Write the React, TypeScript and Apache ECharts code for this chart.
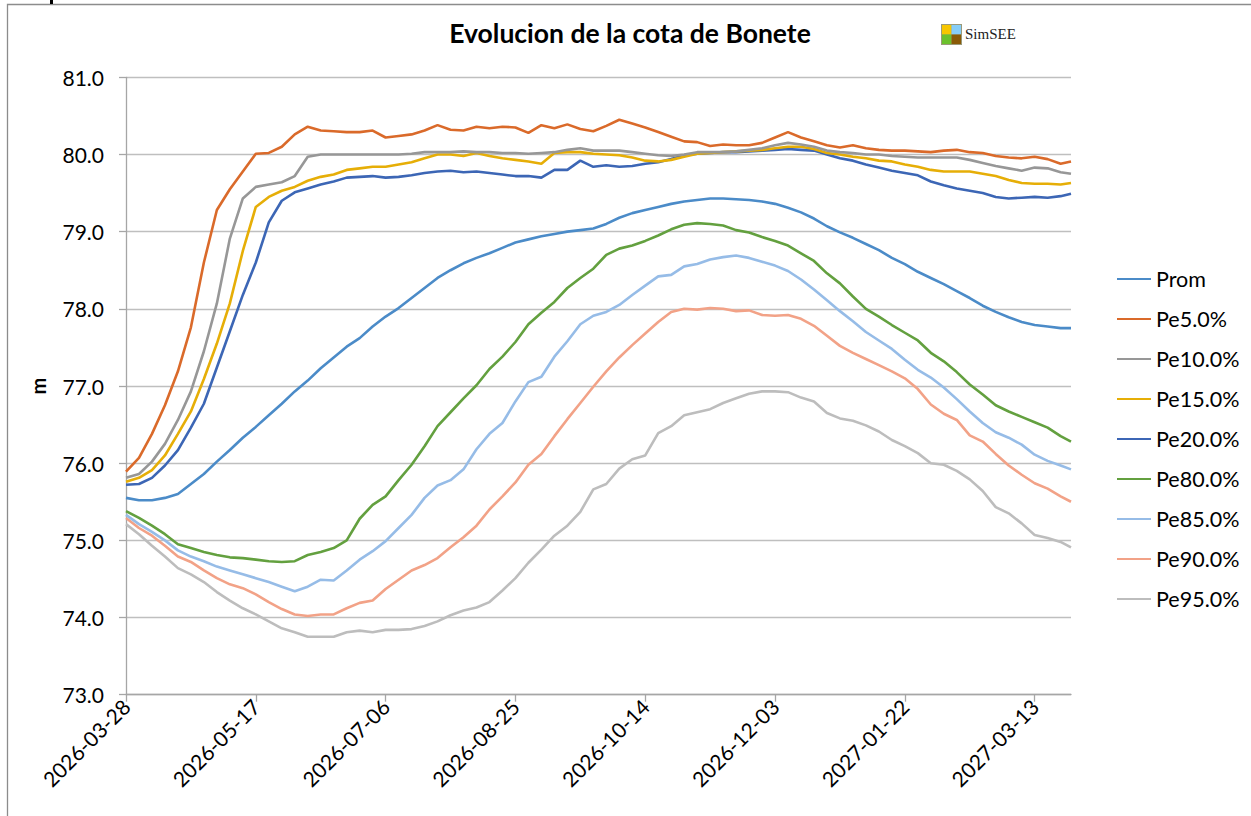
import React, { useEffect, useRef } from "react";
import * as echarts from "echarts";

// Day offsets from 2026-03-28 at which values were read (every 5 days)
const days = [
  0, 5, 10, 15, 20, 25, 30, 35, 40, 45,
  50, 55, 60, 65, 70, 75, 80, 85, 90, 95,
  100, 105, 110, 115, 120, 125, 130, 135, 140, 145,
  150, 155, 160, 165, 170, 175, 180, 185, 190, 195,
  200, 205, 210, 215, 220, 225, 230, 235, 240, 245,
  250, 255, 260, 265, 270, 275, 280, 285, 290, 295,
  300, 305, 310, 315, 320, 325, 330, 335, 340, 345,
  350, 355, 360, 364,
];

const xTickLabels = [
  "2026-03-28", "2026-05-17", "2026-07-06", "2026-08-25",
  "2026-10-14", "2026-12-03", "2027-01-22", "2027-03-13",
];
const xTickStep = 50;

const prom = [
  75.55, 75.52, 75.52, 75.55, 75.60, 75.73, 75.86, 76.02, 76.17, 76.33,
  76.47, 76.62, 76.77, 76.93, 77.07, 77.23, 77.37, 77.51, 77.62, 77.77,
  77.90, 78.01, 78.14, 78.27, 78.40, 78.50, 78.59, 78.66, 78.72, 78.79,
  78.86, 78.90, 78.94, 78.97, 79.00, 79.02, 79.04, 79.10, 79.18, 79.24,
  79.28, 79.32, 79.36, 79.39, 79.41, 79.43, 79.43, 79.42, 79.41, 79.39,
  79.36, 79.31, 79.25, 79.17, 79.07, 78.99, 78.92, 78.84, 78.76, 78.66,
  78.58, 78.48, 78.40, 78.32, 78.23, 78.14, 78.04, 77.96, 77.89, 77.83,
  77.79, 77.77, 77.75, 77.75,
];
const pe5 = [
  75.89, 76.07, 76.38, 76.75, 77.19, 77.76, 78.60, 79.28, 79.55, 79.78,
  80.01, 80.02, 80.10, 80.26, 80.36, 80.31, 80.30, 80.29, 80.29, 80.31,
  80.22, 80.24, 80.26, 80.31, 80.38, 80.32, 80.31, 80.36, 80.34, 80.36,
  80.35, 80.28, 80.38, 80.34, 80.39, 80.33, 80.30, 80.37, 80.45, 80.40,
  80.35, 80.29, 80.23, 80.17, 80.16, 80.11, 80.13, 80.12, 80.12, 80.15,
  80.22, 80.29, 80.22, 80.17, 80.12, 80.09, 80.12, 80.08, 80.06, 80.05,
  80.05, 80.04, 80.03, 80.05, 80.06, 80.03, 80.02, 79.98, 79.96, 79.95,
  79.97, 79.94, 79.88, 79.91,
];
const pe10 = [
  75.81, 75.86, 76.02, 76.25, 76.56, 76.93, 77.45, 78.07, 78.91, 79.43,
  79.58, 79.61, 79.64, 79.72, 79.97, 80.00, 80.00, 80.00, 80.00, 80.00,
  80.00, 80.00, 80.01, 80.03, 80.03, 80.03, 80.04, 80.03, 80.03, 80.02,
  80.02, 80.01, 80.02, 80.03, 80.06, 80.08, 80.05, 80.05, 80.05, 80.03,
  80.01, 79.99, 79.98, 80.00, 80.03, 80.03, 80.03, 80.04, 80.06, 80.08,
  80.12, 80.15, 80.13, 80.10, 80.05, 80.03, 80.02, 80.00, 80.00, 79.98,
  79.97, 79.96, 79.96, 79.96, 79.96, 79.93, 79.89, 79.85, 79.82, 79.79,
  79.83, 79.82, 79.77, 79.75,
];
const pe15 = [
  75.76, 75.81, 75.91, 76.10, 76.38, 76.67, 77.09, 77.55, 78.07, 78.75,
  79.32, 79.45, 79.53, 79.58, 79.66, 79.71, 79.74, 79.80, 79.82, 79.84,
  79.84, 79.87, 79.90, 79.95, 80.00, 80.00, 79.98, 80.02, 79.98, 79.95,
  79.93, 79.91, 79.88, 80.02, 80.03, 80.03, 80.01, 80.00, 79.99, 79.96,
  79.92, 79.91, 79.93, 79.97, 80.01, 80.02, 80.03, 80.04, 80.05, 80.06,
  80.08, 80.10, 80.10, 80.07, 80.02, 80.00, 79.97, 79.95, 79.92, 79.91,
  79.87, 79.84, 79.80, 79.78, 79.78, 79.78, 79.75, 79.72, 79.67, 79.63,
  79.62, 79.62, 79.61, 79.63,
];
const pe20 = [
  75.72, 75.73, 75.81, 75.97, 76.17, 76.46, 76.77, 77.24, 77.71, 78.18,
  78.60, 79.12, 79.40, 79.51, 79.56, 79.61, 79.65, 79.70, 79.71, 79.72,
  79.70, 79.71, 79.73, 79.76, 79.78, 79.79, 79.77, 79.78, 79.76, 79.74,
  79.72, 79.72, 79.70, 79.80, 79.80, 79.92, 79.84, 79.86, 79.84, 79.85,
  79.88, 79.90, 79.94, 79.99, 80.01, 80.02, 80.03, 80.03, 80.04, 80.05,
  80.06, 80.07, 80.06, 80.05, 80.00, 79.95, 79.92, 79.87, 79.83, 79.79,
  79.76, 79.73, 79.65, 79.60, 79.56, 79.53, 79.50, 79.45, 79.43, 79.44,
  79.45, 79.44, 79.46, 79.49,
];
const pe80 = [
  75.38, 75.29, 75.19, 75.08, 74.95, 74.90, 74.85, 74.81, 74.78, 74.77,
  74.75, 74.73, 74.72, 74.73, 74.81, 74.85, 74.90, 75.00, 75.28, 75.46,
  75.57, 75.78, 75.98, 76.22, 76.48, 76.66, 76.84, 77.01, 77.22, 77.38,
  77.57, 77.80, 77.95, 78.09, 78.27, 78.40, 78.52, 78.70, 78.78, 78.82,
  78.88, 78.95, 79.03, 79.09, 79.11, 79.10, 79.08, 79.02, 78.99, 78.93,
  78.88, 78.82, 78.72, 78.62, 78.46, 78.33, 78.16, 78.00, 77.90, 77.79,
  77.69, 77.59, 77.43, 77.32, 77.18, 77.02, 76.89, 76.75, 76.67, 76.60,
  76.53, 76.46, 76.35, 76.28,
];
const pe85 = [
  75.33, 75.21, 75.11, 75.00, 74.87, 74.79, 74.73, 74.66, 74.61, 74.56,
  74.51, 74.46, 74.40, 74.34, 74.40, 74.49, 74.48, 74.61, 74.75, 74.86,
  74.99, 75.16, 75.33, 75.55, 75.71, 75.78, 75.92, 76.18, 76.38, 76.52,
  76.80, 77.05, 77.12, 77.38, 77.58, 77.80, 77.91, 77.96, 78.05, 78.18,
  78.30, 78.42, 78.44, 78.55, 78.58, 78.64, 78.67, 78.69, 78.66, 78.61,
  78.56, 78.49, 78.38, 78.25, 78.11, 77.97, 77.84, 77.70, 77.59, 77.48,
  77.34, 77.21, 77.11, 76.98, 76.83, 76.67, 76.52, 76.40, 76.33, 76.24,
  76.11, 76.03, 75.97, 75.92,
];
const pe90 = [
  75.29, 75.16, 75.06, 74.93, 74.79, 74.72, 74.61, 74.51, 74.43, 74.38,
  74.30, 74.20, 74.11, 74.04, 74.02, 74.04, 74.04, 74.12, 74.19, 74.22,
  74.37, 74.49, 74.61, 74.68, 74.77, 74.91, 75.04, 75.19, 75.40, 75.57,
  75.75, 75.98, 76.12, 76.35, 76.57, 76.78, 76.99, 77.19, 77.37, 77.53,
  77.68, 77.83, 77.96, 78.00, 77.99, 78.01, 78.00, 77.97, 77.98, 77.92,
  77.91, 77.92, 77.87, 77.78, 77.65, 77.52, 77.43, 77.35, 77.27, 77.19,
  77.10, 76.96, 76.76, 76.64, 76.56, 76.36, 76.28, 76.12, 75.97, 75.85,
  75.74, 75.67, 75.57, 75.50,
];
const pe95 = [
  75.21, 75.08, 74.93, 74.79, 74.64, 74.56, 74.46, 74.33, 74.22, 74.12,
  74.04, 73.95, 73.86, 73.81, 73.75, 73.75, 73.75, 73.81, 73.83, 73.81,
  73.84, 73.84, 73.85, 73.89, 73.95, 74.03, 74.09, 74.13, 74.20, 74.35,
  74.51, 74.71, 74.88, 75.06, 75.19, 75.37, 75.66, 75.73, 75.93, 76.05,
  76.10, 76.39, 76.48, 76.62, 76.66, 76.70, 76.78, 76.84, 76.90, 76.93,
  76.93, 76.92, 76.85, 76.80, 76.65, 76.58, 76.55, 76.49, 76.41, 76.30,
  76.22, 76.13, 76.00, 75.98, 75.90, 75.79, 75.64, 75.43, 75.35, 75.22,
  75.07, 75.03, 74.98, 74.91,
];

const seriesNames = [
  "Prom", "Pe5.0%", "Pe10.0%", "Pe15.0%", "Pe20.0%",
  "Pe80.0%", "Pe85.0%", "Pe90.0%", "Pe95.0%",
];
const seriesValues = [prom, pe5, pe10, pe15, pe20, pe80, pe85, pe90, pe95];
const seriesColors = [
  "#4B8BC8", "#DA6A2A", "#979797", "#E6AE07", "#3C66B5",
  "#63A03F", "#96BCE7", "#F2A287", "#BDBDBD",
];

const FONT = "Lato, 'Open Sans', sans-serif";

export default function App() {
  const ref = useRef<HTMLDivElement>(null);

  useEffect(() => {
    if (!ref.current) return;
    const chart = echarts.init(ref.current, null, { renderer: "svg" });
    const tickValues = xTickLabels.map((_, i) => i * xTickStep);

    chart.setOption({
      animation: false,
      backgroundColor: "#ffffff",
      textStyle: { fontFamily: FONT },
      title: {
        text: "Evolucion de la cota de Bonete",
        left: 630,
        top: 19,
        textAlign: "center",
        padding: 0,
        textStyle: { fontFamily: FONT, fontSize: 26.5, fontWeight: "bold", color: "#000" },
      },
      legend: {
        orient: "vertical",
        left: 1117,
        top: 268,
        padding: 0,
        itemWidth: 34,
        itemHeight: 12,
        itemGap: 18,
        icon: "path://M0,5 L34,5 L34,7 L0,7 Z",
        textStyle: { fontFamily: FONT, fontSize: 21.5, color: "#000" },
        data: seriesNames,
      },
      grid: { left: 126, right: 180, top: 77.3, bottom: 121.3, containLabel: false },
      xAxis: {
        type: "value",
        min: 0,
        max: 364,
        interval: xTickStep,
        axisLine: { show: true, onZero: false, lineStyle: { color: "#A6A6A6", width: 1.3 } },
        axisTick: { show: true, length: 7, customValues: tickValues, lineStyle: { color: "#A6A6A6", width: 1.3 } },
        splitLine: { show: false },
        axisLabel: {
          rotate: 45,
          margin: 8,
          fontFamily: FONT,
          fontSize: 21,
          color: "#000",
          customValues: tickValues,
          formatter: (v: number) => xTickLabels[Math.round(v / xTickStep)] ?? "",
        },
      },
      yAxis: {
        type: "value",
        min: 73,
        max: 81,
        interval: 1,
        name: "m",
        nameLocation: "middle",
        nameGap: 78,
        nameRotate: 90,
        nameTextStyle: { fontFamily: FONT, fontSize: 20, fontWeight: "bold", color: "#000" },
        axisLine: { show: true, lineStyle: { color: "#A6A6A6", width: 1.3 } },
        axisTick: { show: true, length: 7, lineStyle: { color: "#A6A6A6", width: 1.3 } },
        splitLine: { show: true, lineStyle: { color: "#BFBFBF", width: 1.3 } },
        axisLabel: {
          margin: 22,
          fontFamily: FONT,
          fontSize: 21,
          color: "#000",
          formatter: (v: number) => v.toFixed(1),
        },
      },
      graphic: [
        {
          type: "rect",
          shape: { x: 7.5, y: 4.5, width: 1400, height: 1000 },
          style: { fill: "none", stroke: "#8C8C8C", lineWidth: 1.3 },
          silent: true,
        },
        {
          type: "rect",
          shape: { x: 50, y: 0, width: 3, height: 4 },
          style: { fill: "#000" },
          silent: true,
        },
        {
          type: "group",
          left: 941,
          top: 24,
          children: [
            { type: "rect", shape: { x: 0, y: 0, width: 21, height: 21 }, style: { fill: "#9A9A7A" } },
            { type: "rect", shape: { x: 1, y: 1, width: 9.5, height: 9.5 }, style: { fill: "#F7C600" } },
            { type: "rect", shape: { x: 10.5, y: 1, width: 9.5, height: 9.5 }, style: { fill: "#86CDF7" } },
            { type: "rect", shape: { x: 1, y: 10.5, width: 9.5, height: 9.5 }, style: { fill: "#6CC12C" } },
            { type: "rect", shape: { x: 10.5, y: 10.5, width: 9.5, height: 9.5 }, style: { fill: "#8A5A06" } },
          ],
        },
        {
          type: "text",
          left: 965,
          top: 26,
          style: {
            text: "SimSEE",
            fontFamily: "'Liberation Serif', 'DejaVu Serif', serif",
            fontSize: 15,
            fill: "#222",
          },
        },
      ],
      series: seriesNames.map((name, s) => ({
        name,
        type: "line",
        data: days.map((d, i) => [d, seriesValues[s][i]]),
        showSymbol: false,
        symbol: "none",
        smooth: false,
        lineStyle: { color: seriesColors[s], width: 2.6 },
        itemStyle: { color: seriesColors[s] },
        z: 10 - s * 0.1,
      })),
    });

    return () => chart.dispose();
  }, []);

  return (
    <div
      ref={ref}
      style={{ position: "absolute", left: 0, top: 0, width: 1251, height: 816 }}
    />
  );
}
